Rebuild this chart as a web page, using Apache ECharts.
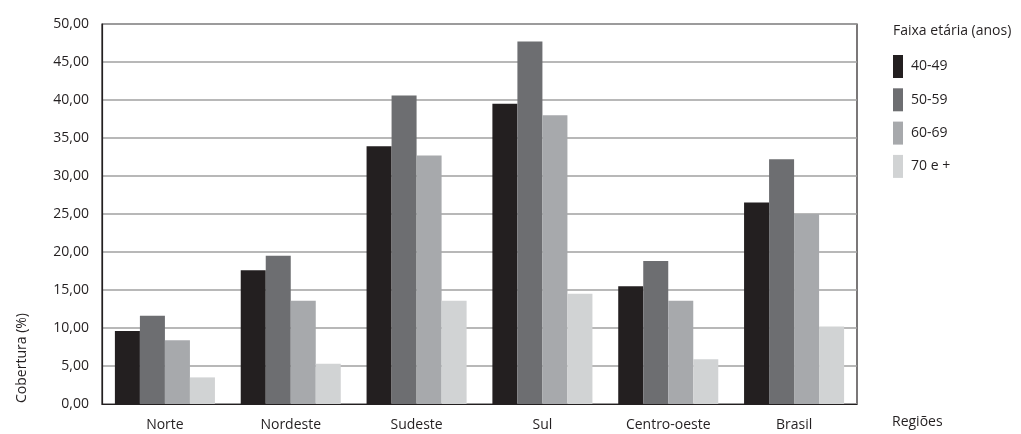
<!DOCTYPE html>
<html><head><meta charset="utf-8">
<script src="https://cdn.jsdelivr.net/npm/echarts@6/dist/echarts.min.js"></script>
<style>html,body{margin:0;padding:0;background:#fff}#c{width:1021px;height:434px}</style>
</head><body><div id="c"></div>
<script>
const categories = ['Norte','Nordeste','Sudeste','Sul','Centro-oeste','Brasil'];
const seriesNames = ['40-49','50-59','60-69','70 e +'];
const v4049 = [9.6, 17.6, 33.9, 39.5, 15.5, 26.5];
const v5059 = [11.6, 19.5, 40.6, 47.7, 18.8, 32.2];
const v6069 = [8.4, 13.6, 32.7, 38.0, 13.6, 25.0];
const v70 = [3.5, 5.3, 13.6, 14.5, 5.9, 10.2];
const colors = ['#231f20','#6d6e71','#a7a9ac','#d1d3d4'];
const yTicks = [0,5,10,15,20,25,30,35,40,45,50];
const font = '"Open Sans", "Noto Sans", sans-serif';
const txt = '#231f20';

const chart = echarts.init(document.getElementById('c'));
const values = [v4049, v5059, v6069, v70];
chart.setOption({
  animation: false,
  textStyle: {fontFamily: font, color: txt},
  grid: {left: 102, right: 164, top: 24, bottom: 30, show: true, borderColor: '#231f20', borderWidth: 1.2},
  title: {text: 'Faixa etária (anos)', left: 888, top: 19, textStyle: {fontFamily: font, fontSize: 14, fontWeight: 'normal', color: txt}},
  legend: {
    orient: 'vertical', left: 888, top: 50, itemWidth: 10, itemHeight: 23, itemGap: 10.3,
    icon: 'rect', data: seriesNames,
    textStyle: {fontFamily: font, fontSize: 14, color: txt, padding: [0,0,8,3]}
  },
  xAxis: {
    type: 'category', data: categories,
    axisLine: {lineStyle: {color: '#231f20', width: 1.2}},
    axisTick: {inside: true, length: 6, lineStyle: {color: '#231f20'}},
    axisLabel: {fontFamily: font, fontSize: 14, color: txt, margin: 14}
  },
  yAxis: {
    type: 'value', min: 0, max: 50, interval: 5,
    axisLine: {show: true, lineStyle: {color: '#231f20', width: 1.2}},
    axisTick: {show: false},
    splitLine: {lineStyle: {color: '#a0a0a0', width: 1.5}},
    axisLabel: {fontFamily: font, fontSize: 14, color: txt, margin: 13,
      formatter: v => v.toFixed(2).replace('.', ',')}
  },
  graphic: [
    {type: 'text', left: 892, top: 415, style: {text: 'Regiões', fontFamily: font, fontSize: 14, fill: txt}},
    {type: 'text', x: 22, y: 358, rotation: Math.PI/2,
     style: {text: 'Cobertura (%)', fontFamily: font, fontSize: 14, fill: txt, textAlign: 'center', textVerticalAlign: 'middle'}}
  ],
  series: seriesNames.map((n, i) => ({
    name: n, type: 'bar', data: values[i], barGap: '0%', barCategoryGap: '20.5%',
    itemStyle: {color: colors[i]}
  }))
});
</script></body></html>
